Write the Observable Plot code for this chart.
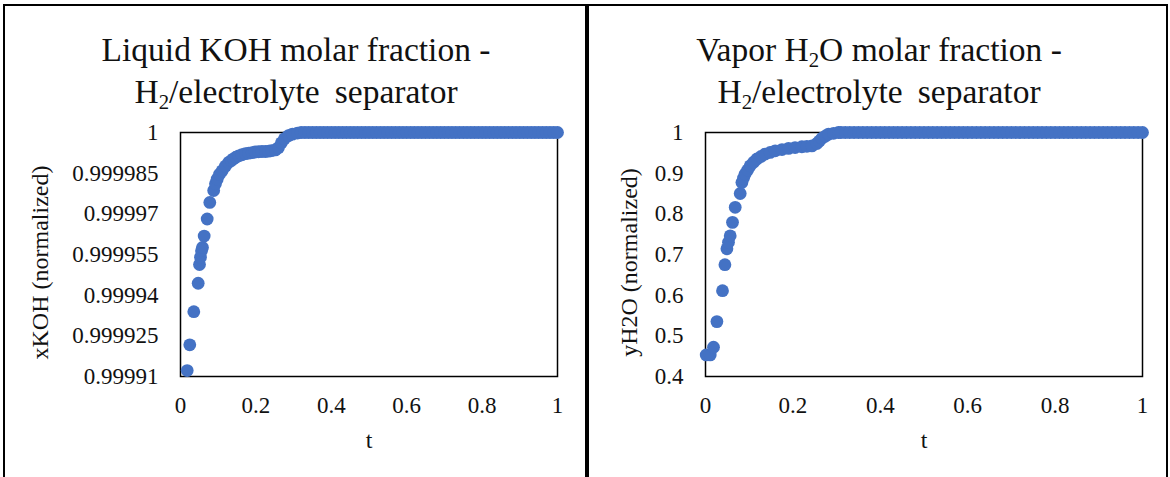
<!DOCTYPE html>
<html>
<head>
<meta charset="utf-8">
<script src="https://cdn.jsdelivr.net/npm/d3@7"></script>
<script src="https://cdn.jsdelivr.net/npm/@observablehq/plot@0.6"></script>
<style>
  html, body { margin: 0; padding: 0; background: #fff; }
  body {
    position: relative; width: 1170px; height: 477px; overflow: hidden;
    font-family: "Liberation Serif", "Times New Roman", serif; color: #111;
  }
  .panel {
    position: absolute; top: 4px; height: 480px; box-sizing: border-box;
    border: 2px solid #000; border-bottom: none; pointer-events: none; z-index: 2;
  }
  .title {
    position: absolute; top: 29px; font-size: 33.5px; line-height: 42px;
    text-align: center; white-space: nowrap;
  }
  .title sub { font-size: 0.62em; line-height: 0; vertical-align: -0.28em; }
  .title .wide { word-spacing: 0.2em; }
  .chart { position: absolute; top: 100px; }
</style>
</head>
<body>
<div class="title" style="left:4px;width:584px">Liquid KOH molar fraction -<br><span class="wide">H<sub>2</sub>/electrolyte separator</span></div>
<div class="title" style="left:590px;width:578px">Vapor H<sub>2</sub>O molar fraction -<br><span class="wide">H<sub>2</sub>/electrolyte separator</span></div>
<div class="chart" id="left" style="left:0px"></div>
<div class="chart" id="right" style="left:590px"></div>
<div class="panel" style="left:3px;width:584px"></div>
<div class="panel" style="left:587px;width:581px"></div>
<script>
// Shared time axis ticks
const xTicks = [0, 0.2, 0.4, 0.6, 0.8, 1];

// Liquid KOH molar fraction (normalized) vs t
const tKOH = [
  0.0178, 0.0246, 0.0353, 0.0469, 0.0504, 0.053, 0.0557, 0.0583, 0.0628, 0.0708,
  0.0777, 0.088, 0.0928, 0.0973, 0.1034, 0.1105, 0.1193, 0.128, 0.135, 0.1405,
  0.147, 0.1545, 0.163, 0.1723, 0.181, 0.19, 0.198, 0.2067, 0.216, 0.2253,
  0.234, 0.2412, 0.2518, 0.2597, 0.2677, 0.2756, 0.2862, 0.2968, 0.3101,
  0.32, 0.33, 0.34, 0.35, 0.36, 0.37, 0.38, 0.39, 0.40, 0.41, 0.42, 0.43, 0.44,
  0.45, 0.46, 0.47, 0.48, 0.49, 0.50, 0.51, 0.52, 0.53, 0.54, 0.55, 0.56, 0.57,
  0.58, 0.59, 0.60, 0.61, 0.62, 0.63, 0.64, 0.65, 0.66, 0.67, 0.68, 0.69, 0.70,
  0.71, 0.72, 0.73, 0.74, 0.75, 0.76, 0.77, 0.78, 0.79, 0.80, 0.81, 0.82, 0.83,
  0.84, 0.85, 0.86, 0.87, 0.88, 0.89, 0.90, 0.91, 0.92, 0.93, 0.94, 0.95, 0.96,
  0.97, 0.98, 0.99, 1.00
];
const xKOH = [
  0.9999122, 0.9999217, 0.9999339, 0.9999444, 0.9999513, 0.999954, 0.9999564, 0.9999576, 0.9999618, 0.9999681,
  0.9999742, 0.9999786, 0.9999811, 0.9999828, 0.9999846, 0.9999859, 0.9999876, 0.999989, 0.9999897, 0.9999903,
  0.9999909, 0.9999914, 0.9999918, 0.9999922, 0.9999924, 0.9999926, 0.9999928, 0.9999929, 0.999993, 0.999993,
  0.9999931, 0.9999933, 0.9999936, 0.9999944, 0.9999962, 0.9999977, 0.9999988, 0.9999994, 0.9999998,
  1, 1, 1, 1, 1, 1, 1, 1, 1, 1, 1, 1, 1,
  1, 1, 1, 1, 1, 1, 1, 1, 1, 1, 1, 1, 1,
  1, 1, 1, 1, 1, 1, 1, 1, 1, 1, 1, 1, 1,
  1, 1, 1, 1, 1, 1, 1, 1, 1, 1, 1, 1, 1,
  1, 1, 1, 1, 1, 1, 1, 1, 1, 1, 1, 1, 1,
  1, 1, 1, 1
];
const xKOHTicks = [0.99991, 0.999925, 0.99994, 0.999955, 0.99997, 0.999985, 1];

// Vapor H2O molar fraction (normalized) vs t
const tH2O = [
  0.0016, 0.0108, 0.0183, 0.0261, 0.0389, 0.0444, 0.049, 0.0526, 0.0565, 0.0618,
  0.068, 0.0794, 0.0833, 0.087, 0.0908, 0.0965, 0.1023, 0.11, 0.1176, 0.127,
  0.1366, 0.148, 0.1595, 0.175, 0.19, 0.205, 0.2206, 0.232, 0.2435, 0.2549,
  0.2607, 0.2664, 0.274, 0.2815, 0.293, 0.3043,
  0.31, 0.32, 0.33, 0.34, 0.35, 0.36, 0.37, 0.38, 0.39, 0.40, 0.41, 0.42, 0.43, 0.44,
  0.45, 0.46, 0.47, 0.48, 0.49, 0.50, 0.51, 0.52, 0.53, 0.54, 0.55, 0.56, 0.57,
  0.58, 0.59, 0.60, 0.61, 0.62, 0.63, 0.64, 0.65, 0.66, 0.67, 0.68, 0.69, 0.70,
  0.71, 0.72, 0.73, 0.74, 0.75, 0.76, 0.77, 0.78, 0.79, 0.80, 0.81, 0.82, 0.83,
  0.84, 0.85, 0.86, 0.87, 0.88, 0.89, 0.90, 0.91, 0.92, 0.93, 0.94, 0.95, 0.96,
  0.97, 0.98, 0.99, 1.00
];
const yH2O = [
  0.453, 0.453, 0.472, 0.535, 0.611, 0.675, 0.714, 0.730, 0.746, 0.779,
  0.816, 0.850, 0.877, 0.888, 0.898, 0.908, 0.918, 0.927, 0.935, 0.941,
  0.947, 0.951, 0.955, 0.958, 0.961, 0.963, 0.965, 0.966, 0.967, 0.973,
  0.979, 0.986, 0.991, 0.996, 0.998, 1.0,
  1, 1, 1, 1, 1, 1, 1, 1, 1, 1, 1, 1, 1, 1,
  1, 1, 1, 1, 1, 1, 1, 1, 1, 1, 1, 1, 1,
  1, 1, 1, 1, 1, 1, 1, 1, 1, 1, 1, 1, 1,
  1, 1, 1, 1, 1, 1, 1, 1, 1, 1, 1, 1, 1,
  1, 1, 1, 1, 1, 1, 1, 1, 1, 1, 1, 1, 1,
  1, 1, 1, 1
];
const yH2OTicks = [0.4, 0.5, 0.6, 0.7, 0.8, 0.9, 1];

const FONT = '"Liberation Serif", "Times New Roman", serif';
const BLUE = "#4472C4";

function scatter({t, v, yDomain, yTicks, yLabel, width, marginLeft, marginRight, labelDx}) {
  const data = t.map((ti, i) => ({t: ti, v: v[i]}));
  return Plot.plot({
    width,
    height: 377,
    marginTop: 32,
    marginBottom: 101,
    marginLeft,
    marginRight,
    style: {fontFamily: FONT, fontSize: "23px", color: "#111", background: "none", overflow: "visible"},
    x: {domain: [0, 1], ticks: xTicks, tickFormat: d => String(d), tickSize: 0, tickPadding: 20, label: null},
    y: {domain: yDomain, ticks: yTicks, tickFormat: d => String(d), tickSize: 0, tickPadding: 22, label: null},
    marks: [
      Plot.frame({stroke: "#000", strokeWidth: 1.5}),
      Plot.dot(data, {x: "t", y: "v", r: 6.4, fill: BLUE}),
      Plot.text([yLabel], {
        frameAnchor: "left", textAnchor: "middle", lineAnchor: "middle", rotate: -90,
        dx: labelDx, dy: 8, fontSize: 24, fill: "#111"
      }),
      Plot.text(["t"], {frameAnchor: "bottom", textAnchor: "middle", lineAnchor: "middle", dy: 63.5, fontSize: 24, fill: "#111"})
    ]
  });
}

document.getElementById("left").append(scatter({
  t: tKOH, v: xKOH, yDomain: [0.99991, 1], yTicks: xKOHTicks,
  yLabel: "xKOH (normalized)", width: 590, marginLeft: 180, marginRight: 33, labelDx: -140
}));
document.getElementById("right").append(scatter({
  t: tH2O, v: yH2O, yDomain: [0.4, 1], yTicks: yH2OTicks,
  yLabel: "yH2O (normalized)", width: 580, marginLeft: 115, marginRight: 28, labelDx: -76
}));
</script>
</body>
</html>
